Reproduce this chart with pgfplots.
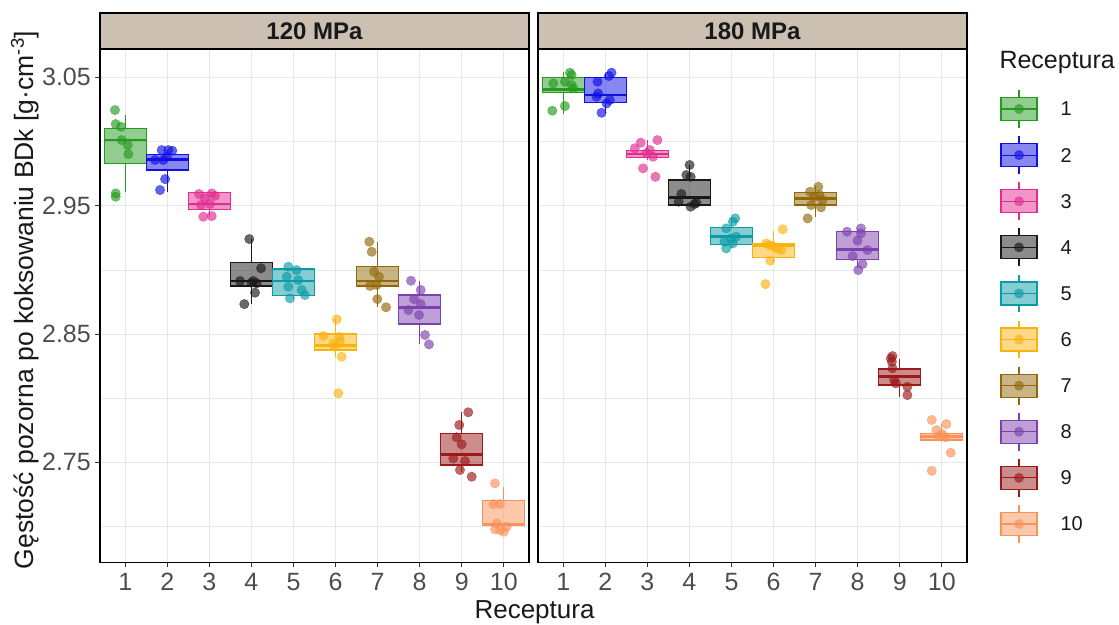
\documentclass[border=0pt]{standalone}
\usepackage{pgfplots}
\pgfplotsset{compat=1.18}
\usepackage{fontspec}
\setmainfont{Liberation Sans}

\definecolor{c1}{RGB}{35,155,30}
\definecolor{c2}{RGB}{15,15,230}
\definecolor{c3}{RGB}{225,45,145}
\definecolor{c4}{RGB}{25,25,25}
\definecolor{c5}{RGB}{10,155,165}
\definecolor{c6}{RGB}{250,178,15}
\definecolor{c7}{RGB}{145,105,10}
\definecolor{c8}{RGB}{125,65,175}
\definecolor{c9}{RGB}{155,25,25}
\definecolor{c10}{RGB}{250,145,90}
\definecolor{stripc}{RGB}{204,192,179}
\definecolor{gridc}{RGB}{232,232,232}
\definecolor{gray20c}{RGB}{51,51,51}
\definecolor{gray30c}{RGB}{77,77,77}

% box: color, left, centre, right, lower whisker, lower quartile, median, upper quartile, upper whisker
\newcommand{\bx}[9]{%
  \addplot[draw=#1, line width=1.2pt] coordinates {(#3,#5) (#3,#6)};
  \addplot[draw=#1, line width=1.2pt] coordinates {(#3,#8) (#3,#9)};
  \addplot[draw=#1, fill=#1, fill opacity=0.5, line width=1.2pt] coordinates {(#2,#6) (#4,#6) (#4,#8) (#2,#8)} -- cycle;
  \addplot[draw=#1, line width=2.6pt] coordinates {(#2,#7) (#4,#7)};
}
\newcommand{\pts}[2]{\addplot[only marks, mark=*, mark size=4.7pt, color=#1, opacity=0.65,
  mark options={draw=none}] coordinates {#2};}
% legend key: color, k, box low, box high, whisker low, whisker high
\newcommand{\legkey}[6]{%
  \addplot[draw=#1, line width=1.2pt] coordinates {(0.5,#5) (0.5,#3)};
  \addplot[draw=#1, line width=1.2pt] coordinates {(0.5,#4) (0.5,#6)};
  \addplot[draw=#1, fill=#1, fill opacity=0.5, line width=1.2pt] coordinates {(0,#3) (1,#3) (1,#4) (0,#4)} -- cycle;
  \addplot[draw=#1, line width=1.2pt] coordinates {(0,#2) (1,#2)};
  \addplot[only marks, mark=*, mark size=4.7pt, color=#1, opacity=0.65, mark options={draw=none}] coordinates {(0.5,#2)};
  \node[anchor=west, font=\fontsize{20}{20}\selectfont, text=black!90] at (axis cs:1.556,#2) {#2};
}

\pgfplotsset{panel/.style={
  scale only axis, width=429pt, height=513.3pt,
  xmin=0.4, xmax=10.6, ymin=2.6721, ymax=3.0721,
  xtick={1,...,10}, ytick={2.75,2.85,2.95,3.05}, minor ytick={2.7,2.8,2.9,3.0},
  xmajorgrids, ymajorgrids, yminorgrids,
  major grid style={draw=gridc, line width=1pt},
  minor grid style={draw=gridc, line width=0.6pt},
  tick pos=left, tick align=outside, major tick length=5pt, minor tick length=0pt,
  tick style={draw=gray20c, line width=1pt},
  axis line style={line width=1.3pt, draw=black},
  /pgf/number format/assume math mode=true,
  ticklabel style={font=\fontsize{25}{25}\selectfont, text=gray30c},
  xticklabel style={inner sep=6pt},
  yticklabel style={inner sep=4pt, /pgf/number format/fixed, /pgf/number format/fixed zerofill, /pgf/number format/precision=2},
  clip=false,
}}

\begin{document}
\begin{tikzpicture}
\path[use as bounding box] (0pt,0pt) rectangle (1119pt,624pt);

\begin{axis}[panel, at={(100pt,61.7pt)}, anchor=south west]
\bx{c1}{0.5}{1}{1.5}{2.9609}{2.9827}{3.0011}{3.0103}{3.0204}
\bx{c2}{1.5}{2}{2.5}{2.9609}{2.9778}{2.9861}{2.9900}{2.9933}
\bx{c3}{2.5}{3}{3.5}{2.9414}{2.9471}{2.9513}{2.9604}{2.9616}
\bx{c4}{3.5}{4}{4.5}{2.8733}{2.8874}{2.8913}{2.9055}{2.9240}
\bx{c5}{4.5}{5}{5.5}{2.8778}{2.8803}{2.8913}{2.9006}{2.9024}
\bx{c6}{5.5}{6}{6.5}{2.8323}{2.8375}{2.8409}{2.8500}{2.8614}
\bx{c7}{6.5}{7}{7.5}{2.8708}{2.8874}{2.8913}{2.9024}{2.9219}
\bx{c8}{7.5}{8}{8.5}{2.8419}{2.8578}{2.8705}{2.8804}{2.8915}
\bx{c9}{8.5}{9}{9.5}{2.7427}{2.7479}{2.7562}{2.7726}{2.7890}
\bx{c10}{9.5}{10}{10.5}{2.6959}{2.7006}{2.7019}{2.7201}{2.7305}
\pts{c1}{(0.757,3.0245) (0.773,3.0136) (0.899,3.0115) (0.916,3.0011) (1.059,2.9972) (1.073,2.9902) (0.773,2.9596) (0.773,2.9570)}
\pts{c2}{(1.867,2.9933) (2.024,2.9933) (2.119,2.9928) (1.708,2.9856) (1.905,2.9856) (1.986,2.9881) (1.948,2.9707) (1.827,2.9622)}
\pts{c3}{(2.754,2.9591) (3.056,2.9596) (3.134,2.9577) (2.896,2.9557) (2.801,2.9505) (2.856,2.9414) (3.056,2.9419) (3.015,2.9513)}
\pts{c4}{(3.950,2.9240) (4.228,2.9012) (3.729,2.8913) (4.046,2.8913) (4.125,2.8895) (4.086,2.8822) (3.831,2.8733) (4.000,2.8900)}
\pts{c5}{(4.876,2.9024) (5.074,2.8998) (5.114,2.8920) (4.876,2.8868) (5.193,2.8843) (5.272,2.8804) (4.917,2.8778) (4.838,2.8946)}
\pts{c6}{(6.028,2.8614) (5.711,2.8484) (6.090,2.8478) (6.107,2.8440) (5.987,2.8401) (6.147,2.8323) (6.066,2.8038) (5.947,2.8427)}
\pts{c7}{(6.803,2.9219) (6.860,2.9141) (6.915,2.8985) (7.033,2.8946) (6.819,2.8874) (6.978,2.8882) (6.993,2.8772) (7.200,2.8708)}
\pts{c8}{(7.794,2.8915) (8.025,2.8843) (7.865,2.8772) (8.025,2.8733) (7.731,2.8687) (7.985,2.8648) (8.127,2.8492) (8.222,2.8419)}
\pts{c9}{(9.156,2.7890) (8.942,2.7791) (8.880,2.7695) (8.999,2.7640) (8.800,2.7531) (9.078,2.7510) (8.959,2.7440) (9.237,2.7388)}
\pts{c10}{(9.791,2.7336) (9.752,2.7175) (9.910,2.7175) (9.831,2.7024) (10.069,2.6998) (9.910,2.6972) (9.792,2.6978) (10.000,2.6959)}
\draw[fill=stripc, draw=black, line width=1.4pt] (rel axis cs:0,1) rectangle ([yshift=36pt]rel axis cs:1,1);
\node[font=\fontsize{24}{24}\selectfont\bfseries, text=black!90] at ([yshift=18pt]rel axis cs:0.5,1) {120 MPa};
\end{axis}

\begin{axis}[panel, at={(538pt,61.7pt)}, anchor=south west,
  yticklabels={}, ytick style={draw=none}]
\bx{c1}{0.5}{1}{1.5}{3.0214}{3.0380}{3.0406}{3.0500}{3.0544}
\bx{c2}{1.5}{2}{2.5}{3.0219}{3.0302}{3.0362}{3.0500}{3.0536}
\bx{c3}{2.5}{3}{3.5}{2.9856}{2.9877}{2.9902}{2.9928}{3.0011}
\bx{c4}{3.5}{4}{4.5}{2.9489}{2.9505}{2.9562}{2.9700}{2.9817}
\bx{c5}{4.5}{5}{5.5}{2.9167}{2.9199}{2.9258}{2.9328}{2.9401}
\bx{c6}{5.5}{6}{6.5}{2.9063}{2.9097}{2.9188}{2.9206}{2.9305}
\bx{c7}{6.5}{7}{7.5}{2.9414}{2.9505}{2.9557}{2.9604}{2.9653}
\bx{c8}{7.5}{8}{8.5}{2.9012}{2.9082}{2.9160}{2.9297}{2.9318}
\bx{c9}{8.5}{9}{9.5}{2.8011}{2.8102}{2.8167}{2.8227}{2.8302}
\bx{c10}{9.5}{10}{10.5}{2.7658}{2.7674}{2.7700}{2.7726}{2.7796}
\pts{c1}{(1.159,3.0536) (1.040,3.0466) (0.763,3.0453) (1.199,3.0440) (1.238,3.0414) (1.040,3.0276) (0.740,3.0240) (1.199,3.0518)}
\pts{c2}{(2.148,3.0536) (2.084,3.0510) (1.816,3.0466) (1.830,3.0375) (2.108,3.0323) (2.030,3.0297) (1.911,3.0224) (1.792,3.0349)}
\pts{c3}{(3.239,3.0011) (2.843,2.9991) (2.701,2.9947) (3.135,2.9881) (2.978,2.9908) (2.898,2.9791) (3.192,2.9725) (3.057,2.9934)}
\pts{c4}{(4.005,2.9817) (3.927,2.9739) (4.029,2.9725) (3.808,2.9591) (3.744,2.9531) (4.164,2.9523) (4.029,2.9492) (4.124,2.9513)}
\pts{c5}{(5.089,2.9401) (5.032,2.9375) (4.876,2.9323) (5.113,2.9258) (4.836,2.9219) (5.032,2.9206) (4.876,2.9167) (4.995,2.9245)}
\pts{c6}{(6.218,2.9316) (5.824,2.9206) (5.903,2.9193) (6.180,2.9154) (6.062,2.9167) (5.920,2.9071) (5.808,2.8889) (5.983,2.9185)}
\pts{c7}{(7.065,2.9647) (6.868,2.9609) (6.970,2.9570) (7.167,2.9544) (6.892,2.9505) (7.129,2.9487) (6.811,2.9401) (7.089,2.9583)}
\pts{c8}{(8.078,2.9323) (7.746,2.9297) (8.078,2.9284) (7.998,2.9227) (8.235,2.9154) (7.879,2.9107) (8.116,2.9045) (8.014,2.8998)}
\pts{c9}{(8.827,2.8328) (8.813,2.8284) (8.827,2.8232) (8.868,2.8141) (8.907,2.8116) (9.183,2.8089) (9.183,2.8024) (8.789,2.8310)}
\pts{c10}{(9.762,2.7830) (10.108,2.7798) (9.871,2.7751) (10.013,2.7720) (10.094,2.7695) (10.213,2.7575) (9.762,2.7434) (9.935,2.7705)}
\draw[fill=stripc, draw=black, line width=1.4pt] (rel axis cs:0,1) rectangle ([yshift=36pt]rel axis cs:1,1);
\node[font=\fontsize{24}{24}\selectfont\bfseries, text=black!90] at ([yshift=18pt]rel axis cs:0.5,1) {180 MPa};
\end{axis}

% legend keys drawn in their own hidden axis
\begin{axis}[scale only axis, width=36pt, height=461pt, at={(1001pt,77pt)}, anchor=south west,
  xmin=0, xmax=1, ymin=0.5, ymax=10.5, y dir=reverse, hide axis, clip=false]
\legkey{c1}{1}{0.75}{1.25}{0.59}{1.41}
\legkey{c2}{2}{1.75}{2.25}{1.59}{2.41}
\legkey{c3}{3}{2.75}{3.25}{2.59}{3.41}
\legkey{c4}{4}{3.75}{4.25}{3.59}{4.41}
\legkey{c5}{5}{4.75}{5.25}{4.59}{5.41}
\legkey{c6}{6}{5.75}{6.25}{5.59}{6.41}
\legkey{c7}{7}{6.75}{7.25}{6.59}{7.41}
\legkey{c8}{8}{7.75}{8.25}{7.59}{8.41}
\legkey{c9}{9}{8.75}{9.25}{8.59}{9.41}
\legkey{c10}{10}{9.75}{10.25}{9.59}{10.41}
\end{axis}

\node[anchor=west, font=\fontsize{25}{25}\selectfont, text=black!90] at (996pt,561pt) {Receptura};
\node[rotate=90, anchor=base, font=\fontsize{26.5}{26.5}\selectfont, text=black!90] at (33pt,324pt) {Gęstość pozorna po koksowaniu BDk [g·cm\textsuperscript{-3}]};
\node[anchor=base, font=\fontsize{26}{26}\selectfont, text=black!90] at (534.5pt,6pt) {Receptura};
\end{tikzpicture}
\end{document}
